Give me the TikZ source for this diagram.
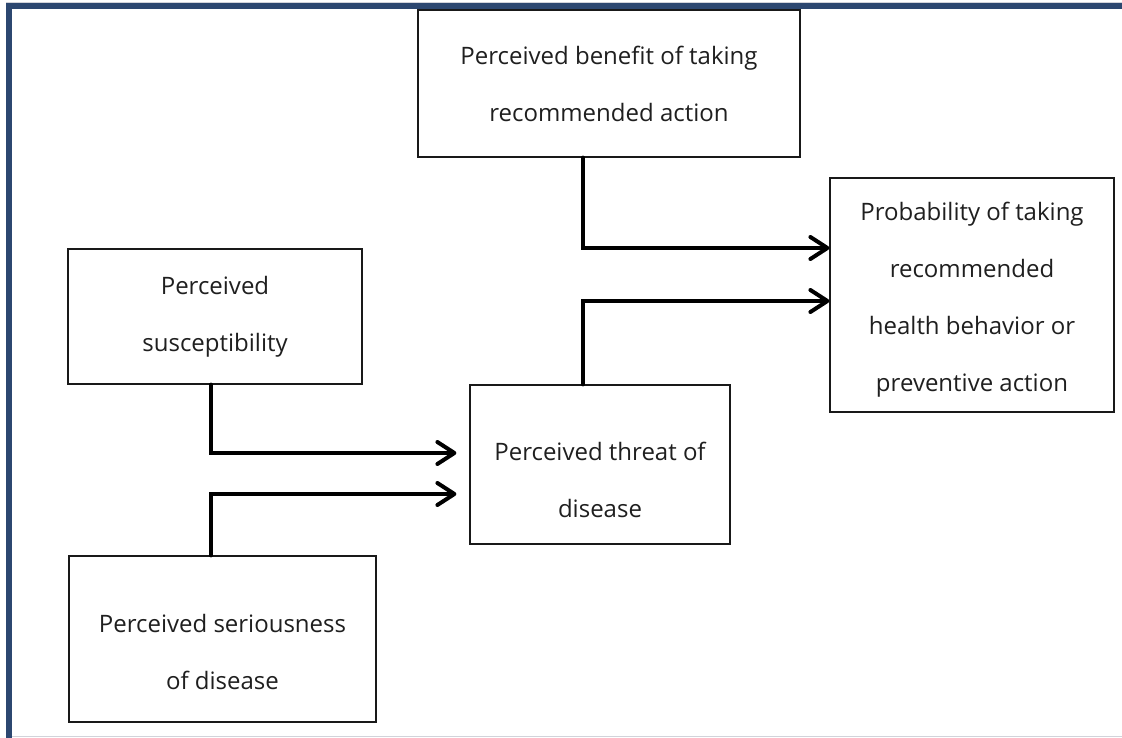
\documentclass[tikz,border=0pt]{standalone}
\usepackage{fontspec}
\setmainfont{Open Sans}
\usetikzlibrary{arrows.meta}
\definecolor{framecol}{HTML}{2C4770}
\definecolor{rulegray}{HTML}{D2D3DA}
\newcommand\pushdown[1]{\rule{0pt}{#1pt}}
\tikzset{box/.style={draw=black!90, line width=1.2pt, align=center, inner sep=0pt,
                     font=\fontsize{24}{57}\selectfont, text=black!88},
         conn/.style={line width=4pt, line cap=round, line join=miter,
                      -{Straight Barb[length=17pt,width=22pt,line width=4pt,round]}}}

\begin{document}
\begin{tikzpicture}[x=1pt,y=-1pt]
       \useasboundingbox (0,0) rectangle (1122,738);
       \fill[white] (0,0) rectangle (1122,738);
       \draw[rulegray, line width=1pt] (6,736) -- (1122,736);
       \draw[rulegray, line width=1pt] (6,2.5) -- (1122,2.5);
       \draw[framecol, line width=5.5pt] (1122,6) -- (9,6) -- (9,738);

       \node[box, minimum width=382, minimum height=147] (benefit) at (609,83.5)
         {Perceived benefit of taking\\recommended action};
       \node[box, minimum width=284, minimum height=234] (prob) at (972,295)
         {\pushdown{28}Probability of taking\\recommended\\health behavior or\\preventive action};
       \node[box, minimum width=294, minimum height=135] (suscept) at (215,316.5)
         {Perceived\\susceptibility};
       \node[box, minimum width=260, minimum height=159] (threat) at (600,464.5)
         {\pushdown{50}Perceived threat of\\disease};
       \node[box, minimum width=307, minimum height=166] (serious) at (222.5,639)
         {\pushdown{44}Perceived seriousness\\of disease};

       \coordinate (kneeA) at (583,248);
       \coordinate (kneeB) at (583,301);
       \coordinate (kneeC) at (211,453);
       \coordinate (kneeD) at (211,494);

       \draw[conn] (benefit.south -| kneeA) |- (prob.west |- kneeA);
       \draw[conn] (threat.north -| kneeB) |- (prob.west |- kneeB);
       \draw[conn, shorten >=13pt] (suscept.south -| kneeC) |- (threat.west |- kneeC);
       \draw[conn, shorten >=13pt] (serious.north -| kneeD) |- (threat.west |- kneeD);
      \end{tikzpicture}
\end{document}
